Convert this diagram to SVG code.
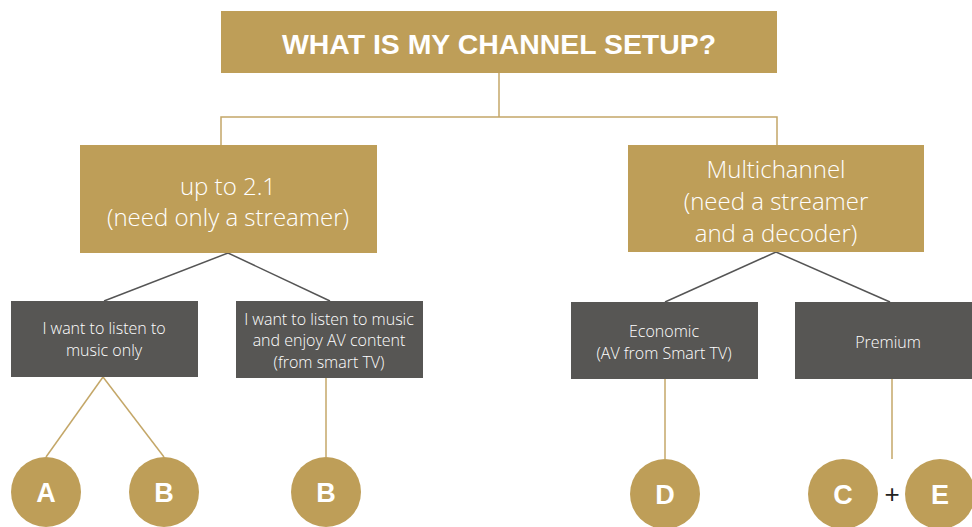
<svg xmlns="http://www.w3.org/2000/svg" width="972" height="527" viewBox="0 0 972 527">
<style>
.gold{fill:#BE9E58}
.gray{fill:#575654}
.t{font-family:"Open Sans","Liberation Sans",sans-serif;fill:#fff;text-anchor:middle}
.big{font-size:24px;font-weight:300}
.small{font-size:16px;font-weight:300}
.title{font-family:"Liberation Sans",sans-serif;font-weight:bold;font-size:28px;fill:#fff;text-anchor:middle}
.letter{font-family:"Liberation Sans",sans-serif;font-weight:bold;font-size:27px;fill:#fff;text-anchor:middle}
.lg{stroke:#C4A768;stroke-width:1.5;fill:none}
.ld{stroke:#555;stroke-width:1.5;fill:none}
</style>
<rect width="972" height="527" fill="#fff"/>
<g id="connectors">
<polyline class="lg" points="499,73 499,117"/>
<polyline class="lg" points="221,145 221,117 777,117 777,145"/>
<line class="ld" x1="228" y1="253" x2="104" y2="301"/>
<line class="ld" x1="228" y1="253" x2="330" y2="301"/>
<line class="ld" x1="776" y1="252" x2="665" y2="302"/>
<line class="ld" x1="776" y1="252" x2="890" y2="302"/>
<line class="lg" x1="103" y1="377" x2="46" y2="457"/>
<line class="lg" x1="103" y1="377" x2="164" y2="457"/>
<line class="lg" x1="326" y1="378" x2="326" y2="457"/>
<line class="lg" x1="665" y1="378" x2="665" y2="459"/>
<line class="lg" x1="892" y1="378" x2="892" y2="459"/>
</g>
<g id="title">
<rect class="gold" x="221" y="11" width="556" height="62"/>
<text class="title" x="499" y="54" textLength="434" lengthAdjust="spacingAndGlyphs">WHAT IS MY CHANNEL SETUP?</text>
</g>
<g id="upto21">
<rect class="gold" x="80" y="145" width="297" height="108"/>
<text class="t big" x="228" y="195">up to 2.1</text>
<text class="t big" x="228" y="226">(need only a streamer)</text>
</g>
<g id="multichannel">
<rect class="gold" x="628" y="145" width="296" height="107"/>
<text class="t big" x="776" y="178">Multichannel</text>
<text class="t big" x="776" y="210">(need a streamer</text>
<text class="t big" x="776" y="242">and a decoder)</text>
</g>
<g id="musiconly">
<rect class="gray" x="11" y="301" width="187" height="76"/>
<text class="t small" x="104" y="334">I want to listen to</text>
<text class="t small" x="104" y="356">music only</text>
</g>
<g id="musicav">
<rect class="gray" x="236" y="301" width="187" height="77"/>
<text class="t small" x="329" y="325">I want to listen to music</text>
<text class="t small" x="329" y="346">and enjoy AV content</text>
<text class="t small" x="329" y="368">(from smart TV)</text>
</g>
<g id="economic">
<rect class="gray" x="571" y="302" width="187" height="77"/>
<text class="t small" x="664" y="337">Economic</text>
<text class="t small" x="664" y="359">(AV from Smart TV)</text>
</g>
<g id="premium">
<rect class="gray" x="795" y="302" width="187" height="77"/>
<text class="t small" x="888" y="348">Premium</text>
</g>
<g id="circleA"><circle class="gold" cx="46" cy="492" r="35"/><text class="letter" x="46" y="502">A</text></g>
<g id="circleB1"><circle class="gold" cx="164" cy="492" r="35"/><text class="letter" x="164" y="502">B</text></g>
<g id="circleB2"><circle class="gold" cx="326" cy="492" r="35"/><text class="letter" x="326" y="502">B</text></g>
<g id="circleD"><circle class="gold" cx="665" cy="494" r="35"/><text class="letter" x="665" y="504">D</text></g>
<g id="circleC"><circle class="gold" cx="843" cy="494" r="35"/><text class="letter" x="843" y="504">C</text></g>
<g id="plus"><text x="892" y="503" font-family="Liberation Sans,sans-serif" font-size="26" fill="#222" text-anchor="middle">+</text></g>
<g id="circleE"><circle class="gold" cx="940" cy="494" r="35"/><text class="letter" x="940" y="504">E</text></g>
</svg>
